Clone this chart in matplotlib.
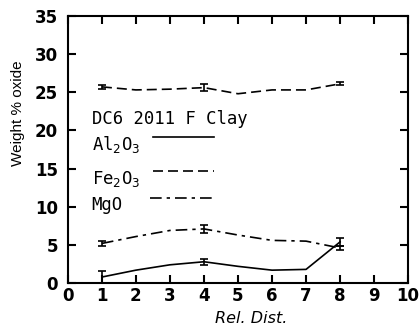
import numpy as np
import matplotlib.pyplot as plt

# Relative distance positions
dist = [1, 2, 3, 4, 5, 6, 7, 8]

# Weight % oxide
al2o3 = [0.8, 1.7, 2.4, 2.8, 2.2, 1.7, 1.8, 5.4]
fe2o3 = [25.7, 25.3, 25.4, 25.6, 24.8, 25.3, 25.3, 26.1]
mgo = [5.2, 6.1, 6.9, 7.1, 6.3, 5.6, 5.5, 4.6]

# Error bars at the measured points
err_x = [1, 4, 8]
al2o3_err = [0.8, 0.4, 0.5]
fe2o3_err = [0.3, 0.5, 0.2]
mgo_err = [0.3, 0.5, 0.3]

fig = plt.figure(figsize=(4.19, 3.30), dpi=100)
ax = fig.add_axes([0.162, 0.142, 0.812, 0.81])

ax.plot(dist, al2o3, color='black', linestyle='-', linewidth=1.2)
ax.plot(dist, fe2o3, color='black', linestyle=(0, (6, 3)), linewidth=1.2)
ax.plot(dist, mgo, color='black', linestyle=(0, (7, 3, 2, 3)), linewidth=1.2)

for vals, errs in [(al2o3, al2o3_err), (fe2o3, fe2o3_err), (mgo, mgo_err)]:
    y = [vals[dist.index(x)] for x in err_x]
    ax.errorbar(err_x, y, yerr=errs, fmt='none', ecolor='black',
                elinewidth=1.2, capsize=3, capthick=1.2)

ax.set_xlim(0, 10)
ax.set_ylim(0, 35)
ax.set_xticks(range(0, 11))
ax.set_yticks(range(0, 36, 5))
ax.tick_params(direction='in', length=6, width=1.5, top=True, right=True,
               labelsize=12)
ax.tick_params(axis='x', pad=3)
ax.tick_params(axis='y', pad=7)
narrow = ['Liberation Sans Narrow', 'DejaVu Sans']
for lab in ax.get_xticklabels() + ax.get_yticklabels():
    lab.set_fontweight('bold')
    lab.set_family(narrow)
for sp in ax.spines.values():
    sp.set_linewidth(1.5)

ax.set_xlabel('Rel. Dist.', fontsize=11.5, style='italic', family=narrow)
ax.xaxis.set_label_coords(0.54, -0.105)
ax.set_ylabel('Weight % oxide', fontsize=11, family=['Liberation Sans', 'DejaVu Sans'])
ax.yaxis.set_label_coords(-0.126, 0.637)

# Hand-drawn style legend inside the plot
mono = dict(family='DejaVu Sans Mono', fontsize=12.4, color='black')
ax.text(0.7, 20.8, 'DC6 2011 F Clay', **mono)
ax.text(0.7, 17.4, r'Al$_2$O$_3$', **mono)
ax.text(0.7, 13.0, r'Fe$_2$O$_3$', **mono)
ax.text(0.7, 9.6, 'MgO', **mono)
ax.plot([2.5, 4.3], [19.1, 19.1], color='black', linestyle='-', linewidth=1.2)
ax.plot([2.5, 4.3], [14.7, 14.7], color='black', linestyle=(0, (6, 3)), linewidth=1.2)
ax.plot([2.4, 4.3], [11.1, 11.1], color='black', linestyle=(0, (7, 3, 2, 3)), linewidth=1.2)

fig.savefig('out.png', dpi=100)
